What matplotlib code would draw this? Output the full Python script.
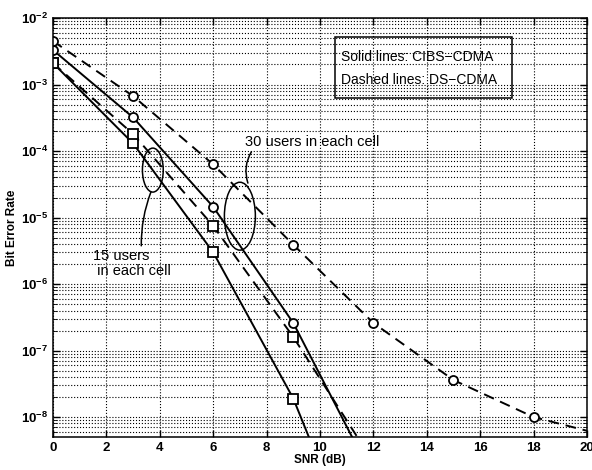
import numpy as np
import matplotlib.pyplot as plt
from matplotlib.patches import Ellipse

plt.rcParams['font.family'] = ['Liberation Sans', 'DejaVu Sans']
plt.rcParams['mathtext.fontset'] = 'custom'
plt.rcParams['mathtext.rm'] = 'Liberation Sans'
plt.rcParams['mathtext.it'] = 'Liberation Sans'
plt.rcParams['mathtext.bf'] = 'Liberation Sans:bold'

# SNR points (dB)
snr_short = [0, 3, 6, 9, 12]
snr_long = [0, 3, 6, 9, 12, 15, 18, 21]

# BER values
cibs_30 = [3.3e-3, 3.2e-4, 1.45e-5, 2.6e-7, 1.2e-9]
ds_30 = [4.5e-3, 6.7e-4, 6.3e-5, 3.9e-6, 2.6e-7, 3.6e-8, 1.0e-8, 4.9e-9]
cibs_15 = [2.1e-3, 1.3e-4, 3.0e-6, 1.9e-8, 2.0e-11]
ds_15 = [2.1e-3, 1.8e-4, 7.5e-6, 1.6e-7, 2.1e-9]

fig = plt.figure(figsize=(5.92, 4.70), dpi=100)
ax = fig.add_axes([0.0895, 0.0702, 0.902, 0.8915])

lw = 1.4
mk = dict(markersize=6.5, markerfacecolor='white', markeredgecolor='black', markeredgewidth=1.3)
ax.semilogy(snr_short, cibs_30, '-', color='black', lw=lw, marker='o', **mk)
ax.semilogy(snr_long, ds_30, '--', color='black', lw=lw, marker='o', dashes=(5.5, 3.5), **mk)
ax.semilogy(snr_short, cibs_15, '-', color='black', lw=lw, marker='s', **mk)
ax.semilogy(snr_short, ds_15, '--', color='black', lw=lw, marker='s', dashes=(5.5, 3.5), **mk)

ax.set_xlim(0, 20)
ax.set_ylim(10**-8.3, 1e-2)
ax.set_xticks(np.arange(0, 21, 2))
ax.grid(True, which='major', axis='x', ls=':', color='black', lw=0.8)
ax.grid(True, which='both', axis='y', ls=':', color='black', lw=0.8)
ax.tick_params(which='both', direction='in', top=True, right=True, labelsize=9.5)
ax.tick_params(which='major', length=5, width=1)
ax.tick_params(which='minor', length=3)
for t in ax.get_xticklabels() + ax.get_yticklabels():
    t.set_fontweight('bold')
for s in ax.spines.values():
    s.set_linewidth(1.1)

ax.set_xlabel('SNR (dB)', fontsize=8.5, fontweight='bold', labelpad=0)
ax.set_ylabel('Bit Error Rate', fontsize=8.5, fontweight='bold', labelpad=2)

# legend-like text box
ax.text(0.539, 0.907, 'Solid lines: CIBS\u2212CDMA', transform=ax.transAxes,
        fontsize=10, va='center', ha='left')
ax.text(0.539, 0.852, 'Dashed lines: DS\u2212CDMA', transform=ax.transAxes,
        fontsize=10, va='center', ha='left')
box = plt.Rectangle((0.528, 0.81), 0.332, 0.145, transform=ax.transAxes,
                    facecolor='none', edgecolor='black', lw=1.1, zorder=5)
ax.add_patch(box)

# ellipses and labels
ax.add_patch(Ellipse((0.187, 0.637), 0.039, 0.105, transform=ax.transAxes,
                     facecolor='none', edgecolor='black', lw=1.1, zorder=6))
ax.add_patch(Ellipse((0.350, 0.527), 0.058, 0.162, transform=ax.transAxes,
                     facecolor='none', edgecolor='black', lw=1.1, zorder=6))

ax.annotate('30 users in each cell', xy=(0.365, 0.606), xycoords='axes fraction',
            xytext=(0.36, 0.704), textcoords='axes fraction', fontsize=10.5,
            va='center', ha='left',
            arrowprops=dict(arrowstyle='-', color='black', lw=1.1,
                            shrinkA=0, shrinkB=0, relpos=(0.06, 0.0),
                            connectionstyle='arc3,rad=0.25'))
ax.annotate('15 users\n in each cell', xy=(0.1835, 0.585), xycoords='axes fraction',
            xytext=(0.075, 0.415), textcoords='axes fraction', fontsize=10.5,
            va='center', ha='left', linespacing=1.1,
            arrowprops=dict(arrowstyle='-', color='black', lw=1.1,
                            shrinkA=0, shrinkB=0, relpos=(0.62, 1.0),
                            connectionstyle='arc3,rad=-0.1'))

fig.savefig('out.png', dpi=100)
